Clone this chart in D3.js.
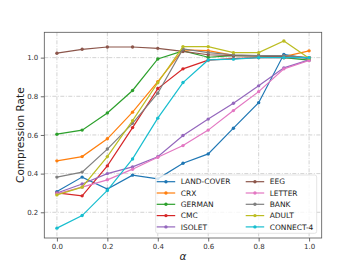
<!DOCTYPE html>
<html><head><meta charset="utf-8">
<script src="https://cdn.jsdelivr.net/npm/d3@7"></script>
<style>body{margin:0;background:#fff}svg{display:block}text{font-family:"DejaVu Sans",sans-serif}</style>
</head><body><svg id="c" width="357" height="268"></svg>
<script>
const alphas = [0.0,0.1,0.2,0.3,0.4,0.5,0.6,0.7,0.8,0.9,1.0];
const seriesNames = ["LAND-COVER","CRX","GERMAN","CMC","ISOLET","EEG","LETTER","BANK","ADULT","CONNECT-4"];
const colors = ["#1f77b4","#ff7f0e","#2ca02c","#d62728","#9467bd","#8c564b","#e377c2","#7f7f7f","#bcbd22","#17becf"];
const landCover = [0.307,0.382,0.320,0.392,0.373,0.454,0.502,0.635,0.767,1.017,0.995];
const crx       = [0.466,0.488,0.580,0.718,0.876,1.040,1.036,1.012,1.010,1.005,1.035];
const german    = [0.604,0.625,0.714,0.830,0.993,1.035,1.002,1.010,1.010,1.000,0.987];
const cmc       = [0.300,0.285,0.440,0.638,0.840,0.942,0.987,0.995,1.000,1.000,1.000];
const isolet    = [0.300,0.346,0.400,0.435,0.487,0.597,0.682,0.764,0.854,0.947,0.988];
const eeg       = [1.023,1.043,1.055,1.055,1.048,1.032,1.015,1.010,1.008,1.005,1.000];
const letter    = [0.295,0.330,0.368,0.423,0.485,0.545,0.625,0.726,0.824,0.942,0.985];
const bank      = [0.382,0.408,0.527,0.660,0.816,1.045,1.026,1.015,1.010,1.010,1.000];
const adult     = [0.290,0.330,0.488,0.674,0.870,1.057,1.057,1.026,1.026,1.086,0.997];
const connect4  = [0.118,0.183,0.313,0.476,0.687,0.871,0.988,0.992,1.000,1.000,1.000];
const seriesValues = [landCover,crx,german,cmc,isolet,eeg,letter,bank,adult,connect4];
const xTicks = [0.0,0.2,0.4,0.6,0.8,1.0];
const yTicks = [0.2,0.4,0.6,0.8,1.0];

const svg = d3.select("#c");
const L=44.3,R=321.7,T=32.3,B=238;
const x = d3.scaleLinear().domain([-0.05,1.05]).range([L,R]);
const y = d3.scaleLinear().domain([0.067,1.131]).range([B,T]);

// grid
const grid = svg.append("g");
xTicks.forEach(t=>grid.append("line").attr("x1",x(t)).attr("x2",x(t)).attr("y1",T).attr("y2",B)
  .attr("stroke","#c8c8c8").attr("stroke-width",0.8).attr("stroke-dasharray","4,1.5,1,1.5"));
yTicks.forEach(t=>grid.append("line").attr("x1",L).attr("x2",R).attr("y1",y(t)).attr("y2",y(t))
  .attr("stroke","#c8c8c8").attr("stroke-width",0.8).attr("stroke-dasharray","4,1.5,1,1.5"));

// axes
const xa = svg.append("g").attr("transform",`translate(0,${B})`)
  .call(d3.axisBottom(x).tickValues(xTicks).tickFormat(d3.format(".1f")).tickSize(3.5).tickPadding(2.5));
const ya = svg.append("g").attr("transform",`translate(${L},0)`)
  .call(d3.axisLeft(y).tickValues(yTicks).tickFormat(d3.format(".1f")).tickSize(3.5).tickPadding(2.5));
[xa,ya].forEach(a=>{a.select(".domain").remove();a.selectAll("text").attr("font-size",7).attr("fill","#333").attr("font-family","DejaVu Sans");a.selectAll("line").attr("stroke","#444").attr("stroke-width",0.8);});

// lines
const line = d3.line().x((d,i)=>x(alphas[i])).y(d=>y(d));
seriesValues.forEach((vals,k)=>{
  const g = svg.append("g");
  g.append("path").datum(vals).attr("d",line).attr("fill","none").attr("stroke",colors[k]).attr("stroke-width",1.2);
  g.selectAll("circle").data(vals).join("circle").attr("cx",(d,i)=>x(alphas[i])).attr("cy",d=>y(d)).attr("r",1.7).attr("fill",colors[k]);
});

// frame
svg.append("rect").attr("x",L).attr("y",T).attr("width",R-L).attr("height",B-T).attr("fill","none").attr("stroke","#555").attr("stroke-width",0.8);

// legend
const lg = svg.append("g");
lg.append("rect").attr("x",155.7).attr("y",175).attr("width",161).attr("height",58.3).attr("rx",2)
  .attr("fill","#fff").attr("fill-opacity",0.8).attr("stroke","#ddd").attr("stroke-width",0.8);
seriesNames.forEach((n,k)=>{
  const col = Math.floor(k/5), row = k%5;
  const hx = col===0?156.7:245.7, ty = 181.7+row*11.3;
  lg.append("line").attr("x1",hx).attr("x2",hx+18.5).attr("y1",ty).attr("y2",ty).attr("stroke",colors[k]).attr("stroke-width",1.2);
  lg.append("circle").attr("cx",hx+9.25).attr("cy",ty).attr("r",1.7).attr("fill",colors[k]);
  lg.append("text").attr("x",hx+24).attr("y",ty).attr("dy","0.35em").attr("font-size",7.5).attr("fill","#222").text(n);
});

// labels
svg.append("text").attr("transform",`translate(20,${(T+B)/2}) rotate(-90)`).attr("text-anchor","middle").attr("dy","0.35em")
  .attr("font-size",10.5).attr("fill","#222").text("Compression Rate");
svg.append("text").attr("x",(L+R)/2).attr("y",260).attr("text-anchor","middle").attr("font-size",10.5).attr("font-style","italic").attr("fill","#222").text("α");
</script></body></html>
